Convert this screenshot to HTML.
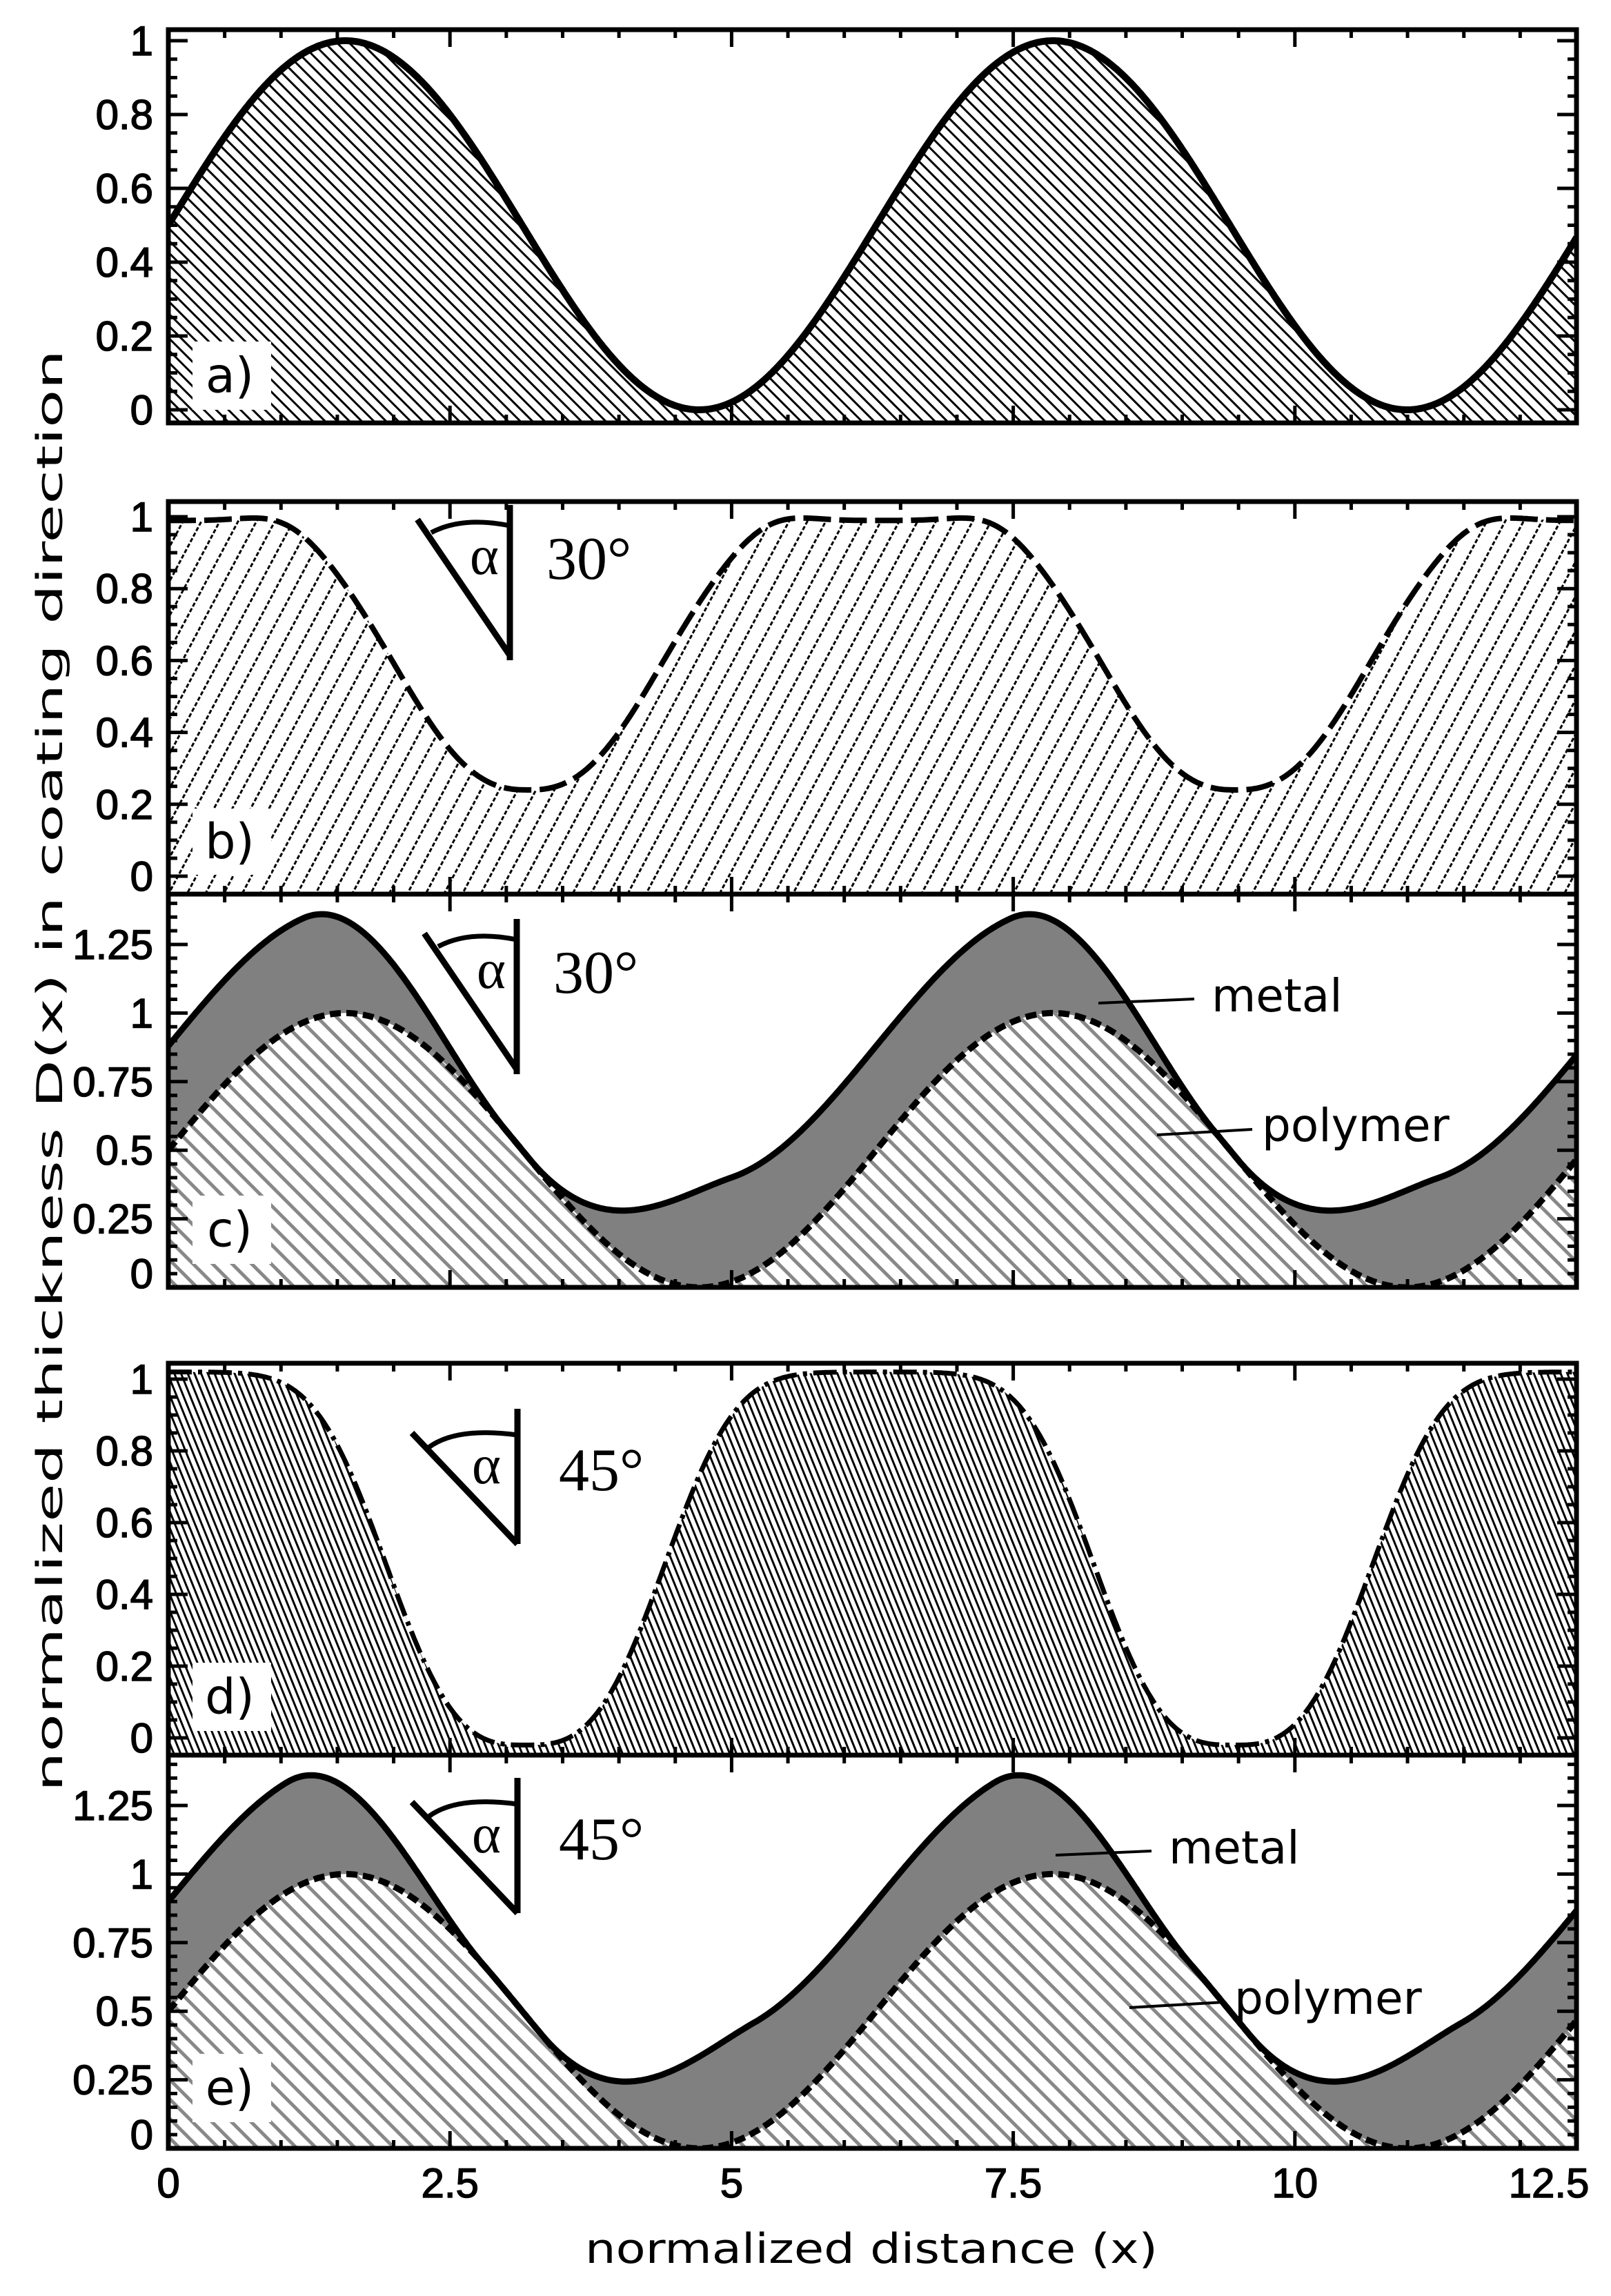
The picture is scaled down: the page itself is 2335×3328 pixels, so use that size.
<!DOCTYPE html>
<html><head><meta charset="utf-8"><style>
html,body{margin:0;padding:0;background:#fff;}
svg{display:block;}
</style></head><body>
<svg id="s" xmlns="http://www.w3.org/2000/svg" width="2335" height="3328" viewBox="0 0 2335 3328">
<defs>
<pattern id="ha" patternUnits="userSpaceOnUse" width="12.5" height="40" patternTransform="rotate(-45)"><rect x="0" y="0" width="3" height="40" fill="#000"/></pattern>
<pattern id="hb" patternUnits="userSpaceOnUse" width="23.5" height="36" patternTransform="rotate(28)"><line x1="1.5" y1="0" x2="1.5" y2="36" stroke="#000" stroke-width="3" stroke-dasharray="6 3"/></pattern>
<pattern id="hc" patternUnits="userSpaceOnUse" width="20" height="40" patternTransform="rotate(-45)"><rect x="0" y="0" width="5" height="40" fill="#888"/></pattern>
<pattern id="hd" patternUnits="userSpaceOnUse" width="9" height="40" patternTransform="rotate(-22)"><rect x="0" y="0" width="3" height="40" fill="#000"/></pattern>
</defs>
<g id="g"></g>
</svg>
<script>
(function(){
var X0=244,X1=2285,XM=12.5;
function sx(x){return X0+(X1-X0)*x/XM;}
var P={
a:{top:43,bot:613,y0:594,k:535},
b:{top:727,bot:1296,y0:1270,k:521},
c:{top:1296,bot:1866,y0:1866,k:397.6},
d:{top:1976,bot:2544,y0:2519,k:520},
e:{top:2544,bot:3114,y0:3114,k:397.6}
};
var TP=2*Math.PI;
function wrap(d){d=((d%TP)+TP)%TP; if(d>Math.PI)d-=TP; return d;}
function fa(x){return 0.5+0.5*Math.sin(x);}
function fb(x){var d=Math.abs(wrap(x-(Math.PI+0.05)));return 0.99-0.75*Math.exp(-Math.pow(d/1.43,2.5))+0.035*Math.exp(-Math.pow((d-2.15)/0.45,2));}
function fd(x){var d=Math.abs(wrap(x-3.17));return 1.02-1.04*Math.exp(-Math.pow(d/1.42,3));}
function ss(t){t=Math.max(0,Math.min(1,t));return t*t*(3-2*t);}
function mk(T0,d0,d1,a0,a1){return function(x){var u=((x%TP)+TP)%TP;var w;
 if(u<d0)w=1;else if(u<d1)w=1-ss((u-d0)/(d1-d0));else if(u<a0)w=0;else if(u<a1)w=ss((u-a0)/(a1-a0));else w=1;
 return fa(x)+T0*w;};}
var mc=mk(0.38,1.2,3.0,3.2,5.0);
var me=mk(0.40,1.05,2.8,3.3,5.2);
var N=900;
function pts(f,p){var s=[];for(var i=0;i<=N;i++){var x=XM*i/N;s.push(sx(x).toFixed(1)+","+(p.y0-p.k*f(x)).toFixed(1));}return s;}
function line(f,p){return "M"+pts(f,p).join(" L");}
function area(f,p){return "M"+X0+","+p.bot+" L"+pts(f,p).join(" L")+" L"+X1+","+p.bot+" Z";}
var h=[];
function clip(id,p){h.push('<clipPath id="'+id+'"><rect x="'+X0+'" y="'+p.top+'" width="'+(X1-X0)+'" height="'+(p.bot-p.top)+'"/></clipPath>');}
for(var k in P)clip("c"+k,P[k]);
function g(id,s){h.push('<g clip-path="url(#c'+id+')">'+s+'</g>');}
g("a",'<path d="'+area(fa,P.a)+'" fill="url(#ha)"/>');
g("b",'<path d="'+area(fb,P.b)+'" fill="url(#hb)"/>');
g("c",'<path d="'+area(mc,P.c)+'" fill="#808080"/><path d="'+area(fa,P.c)+'" fill="#fff"/><path d="'+area(fa,P.c)+'" fill="url(#hc)"/>');
g("d",'<path d="'+area(fd,P.d)+'" fill="url(#hd)"/>');
g("e",'<path d="'+area(me,P.e)+'" fill="#808080"/><path d="'+area(fa,P.e)+'" fill="#fff"/><path d="'+area(fa,P.e)+'" fill="url(#hc)"/>');
var boxes={a:[495,594],b:[1172,1268],c:[1733,1832],d:[2410,2509],e:[2977,3076]};
var T='font-family="DejaVu Sans, Liberation Sans, sans-serif"';
for(var k in boxes){var b=boxes[k];h.push('<rect x="279" y="'+b[0]+'" width="114" height="'+(b[1]-b[0])+'" fill="#fff"/>');
h.push('<text x="333" y="'+((b[0]+b[1])/2+24)+'" '+T+' font-size="70" text-anchor="middle">'+k+')</text>');}
g("a",'<path d="'+line(fa,P.a)+'" fill="none" stroke="#000" stroke-width="10"/>');
g("b",'<path d="'+line(fb,P.b)+'" fill="none" stroke="#000" stroke-width="8" stroke-dasharray="40 12"/>');
g("c",'<path d="'+line(mc,P.c)+'" fill="none" stroke="#000" stroke-width="9"/><path d="'+line(fa,P.c)+'" fill="none" stroke="#000" stroke-width="9" stroke-dasharray="16 8"/>');
g("d",'<path d="'+line(fd,P.d)+'" fill="none" stroke="#000" stroke-width="7" stroke-dasharray="34 9 6 9"/>');
g("e",'<path d="'+line(me,P.e)+'" fill="none" stroke="#000" stroke-width="9"/><path d="'+line(fa,P.e)+'" fill="none" stroke="#000" stroke-width="9" stroke-dasharray="16 8"/>');
var L='font-family="Liberation Sans, Arial, sans-serif"';
function axes(key,maj,labs,zoff){var p=P[key];var s='';
 for(var i=1;i<25;i++){var x=sx(i*0.5);var m=(i%5==0);var l=m?25:12;
  s+='M'+x+','+p.bot+' v'+(-l)+' M'+x+','+p.top+' v'+l+' ';}
 var ymin=(p.y0-p.bot)/p.k, ymax=(p.y0-p.top)/p.k;
 for(var j=Math.ceil(ymin/0.05);j*0.05<=ymax;j++){var v=j*0.05;var y=p.y0-p.k*v;
  if(Math.abs(y-p.bot)<3||Math.abs(y-p.top)<3)continue;
  var m=Math.abs(v/maj-Math.round(v/maj))<1e-6;var l=m?28:13;
  s+='M'+X0+','+y.toFixed(1)+' h'+l+' M'+X1+','+y.toFixed(1)+' h'+(-l)+' ';}
 h.push('<path d="'+s+'" stroke="#000" stroke-width="5" fill="none"/>');
 h.push('<rect x="'+X0+'" y="'+p.top+'" width="'+(X1-X0)+'" height="'+(p.bot-p.top)+'" fill="none" stroke="#000" stroke-width="7"/>');
 labs.forEach(function(v,i){var y=p.y0-p.k*v; if(v==0)y-=zoff;
  h.push('<text x="222" y="'+(y+21).toFixed(1)+'" '+L+' font-size="60" text-anchor="end" stroke="#000" stroke-width="1.5">'+v+'</text>');});
}
axes("a",0.2,[0,0.2,0.4,0.6,0.8,1],0);
axes("b",0.2,[0,0.2,0.4,0.6,0.8,1],0);
axes("c",0.25,[0,0.25,0.5,0.75,1,1.25],20);
axes("d",0.2,[0,0.2,0.4,0.6,0.8,1],0);
axes("e",0.25,[0,0.25,0.5,0.75,1,1.25],20);
[[0,"0"],[2.5,"2.5"],[5,"5"],[7.5,"7.5"],[10,"10"],[12.5,"12.5"]].forEach(function(a){
 var x=sx(a[0]); if(a[0]==12.5)x=2245;
 h.push('<text x="'+x+'" y="3185" '+L+' font-size="60" text-anchor="middle" stroke="#000" stroke-width="1.5">'+a[1]+'</text>');});
function ang(dx,dy,txt){
 var s='<g transform="translate('+dx+','+dy+')" fill="none" stroke="#000" stroke-width="9">';
 s+='<path d="M749,1332 V1557"/><path d="M615,1353 L749,1550"/><path d="M635,1372 Q680,1348 749,1362" stroke-width="7"/></g>';
 s+='<text x="'+(712+dx)+'" y="'+(1432+dy)+'" font-family="Liberation Serif, serif" font-size="80" text-anchor="middle">α</text>';
 s+='<text x="'+(802+dx)+'" y="'+(1439+dy)+'" font-family="Liberation Serif, serif" font-size="88">'+txt+'</text>';
 h.push(s);}
function ang45(dx,dy){
 var s='<g transform="translate('+dx+','+dy+')" fill="none" stroke="#000" stroke-width="9">';
 s+='<path d="M750,2042 V2238"/><path d="M597,2077 L750,2238"/><path d="M620,2099 Q660,2068 750,2080" stroke-width="7"/></g>';
 s+='<text x="'+(705+dx)+'" y="'+(2150+dy)+'" font-family="Liberation Serif, serif" font-size="80" text-anchor="middle">α</text>';
 s+='<text x="'+(810+dx)+'" y="'+(2160+dy)+'" font-family="Liberation Serif, serif" font-size="88">45°</text>';
 h.push(s);}
ang(-10,-600,"30°");ang(0,0,"30°");
ang45(0,0);ang45(0,535);
function mp(dx,dy1,dx2,dy2){
 h.push('<path d="M'+(1592+dx)+','+(1454+dy1)+' L'+(1731+dx)+','+(1448+dy1)+' M'+(1677+dx2)+','+(1645+dy2)+' L'+(1815+dx2)+','+(1637+dy2)+'" stroke="#000" stroke-width="4"/>');
 h.push('<text x="'+(1756+dx)+'" y="'+(1466+dy1)+'" '+T+' font-size="66">metal</text>');
 h.push('<text x="'+(1829+dx2)+'" y="'+(1654+dy2)+'" '+T+' font-size="66">polymer</text>');}
mp(0,0,0,0);mp(-62,1235,-40,1265);
h.push('<text transform="translate(90,1552) rotate(-90)" '+T+' font-size="52" text-anchor="middle" textLength="2090" lengthAdjust="spacingAndGlyphs">normalized thickness D(x) in coating direction</text>');
h.push('<text x="1263" y="3280" '+T+' font-size="60" text-anchor="middle" textLength="830" lengthAdjust="spacingAndGlyphs">normalized distance (x)</text>');
document.getElementById("g").innerHTML=h.join("");
})();
</script>
</body></html>
